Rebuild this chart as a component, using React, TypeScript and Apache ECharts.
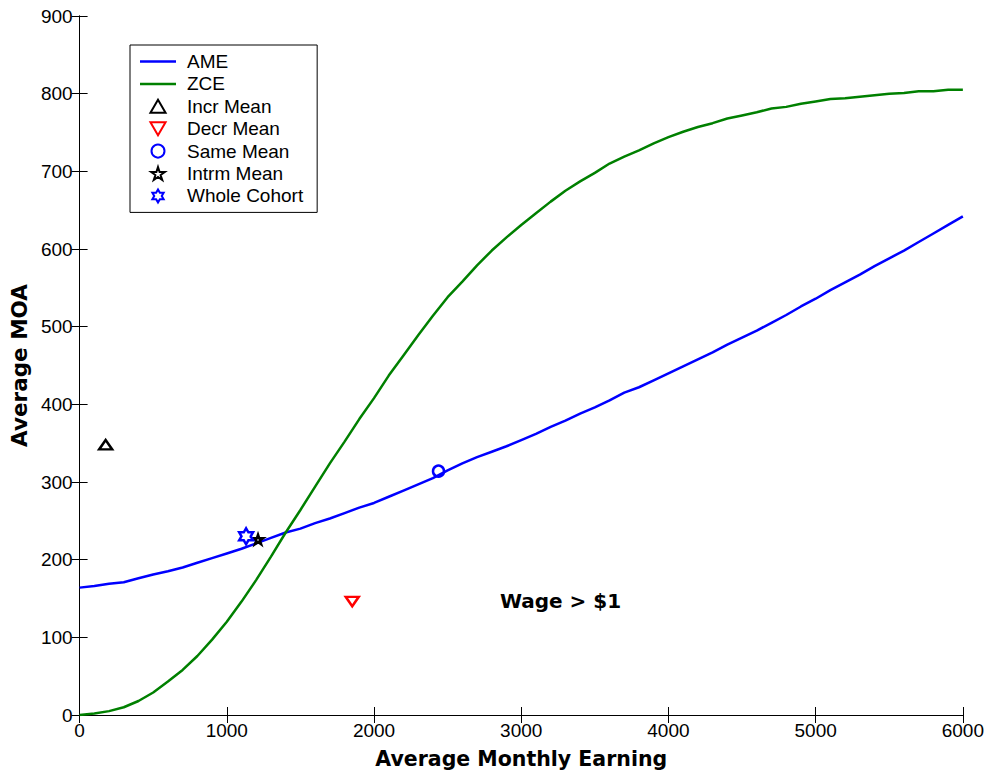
import { useEffect, useRef } from "react";
import * as echarts from "echarts";

// Average Monthly Earning (x) sampled every 100
const earning = [
  0, 100, 200, 300, 400, 500, 600, 700, 800, 900,
  1000, 1100, 1200, 1300, 1400, 1500, 1600, 1700, 1800, 1900,
  2000, 2100, 2200, 2300, 2400, 2500, 2600, 2700, 2800, 2900,
  3000, 3100, 3200, 3300, 3400, 3500, 3600, 3700, 3800, 3900,
  4000, 4100, 4200, 4300, 4400, 4500, 4600, 4700, 4800, 4900,
  5000, 5100, 5200, 5300, 5400, 5500, 5600, 5700, 5800, 5900, 6000,
];

// AME curve (blue)
const ameMOA = [
  164, 166, 169, 171, 176, 181, 185, 190, 196, 202,
  208, 214, 221, 228, 235, 240, 247, 253, 260, 267,
  273, 281, 289, 297, 305, 315, 324, 332, 339, 346,
  354, 362, 371, 379, 388, 396, 405, 415, 422, 431,
  440, 449, 458, 467, 477, 486, 495, 505, 515, 526,
  536, 547, 557, 567, 578, 588, 598, 609, 620, 631, 642,
];

// ZCE curve (green)
const zceMOA = [
  0, 2, 5, 10, 18, 29, 43, 58, 76, 97,
  120, 146, 174, 204, 235, 264, 294, 324, 352, 381,
  408, 437, 463, 489, 514, 538, 558, 579, 598, 615,
  631, 646, 661, 675, 687, 698, 710, 719, 727, 736,
  744, 751, 757, 762, 768, 772, 776, 781, 783, 787,
  790, 793, 794, 796, 798, 800, 801, 803, 803, 805, 805,
];

// Group means [earning, MOA]
const incrMean = [177, 348];
const decrMean = [1852, 146];
const sameMean = [2438, 314];
const intrmMean = [1212, 226];
const wholeCohort = [1131, 230];

// Annotation
const annotationText = "Wage > $1";
const annotationPos = [2855, 147];

const LINE_ICON = "path://M0 0 H36 V2.5 H0 Z";
const TRIANGLE_UP = "path://M50 0 L100 86 L0 86 Z";
const TRIANGLE_DOWN = "path://M0 0 L100 0 L50 86 Z";
const PENTAGRAM =
  "path://M50 0 L61.23 34.55 L97.55 34.55 L68.17 55.9 L79.39 90.45 L50 69.1 L20.61 90.45 L31.83 55.9 L2.45 34.55 L38.77 34.55 Z";
const HEXAGRAM =
  "path://M50 0 L64.43 25 L93.3 25 L78.87 50 L93.3 75 L64.43 75 L50 100 L35.57 75 L6.7 75 L21.13 50 L6.7 25 L35.57 25 Z";

const legendItems = [
  { name: "AME", icon: LINE_ICON },
  { name: "ZCE", icon: LINE_ICON },
  { name: "Incr Mean" },
  { name: "Decr Mean" },
  { name: "Same Mean" },
  { name: "Intrm Mean" },
  { name: "Whole Cohort" },
];

const TICK_FONT = "'Liberation Sans', Arial, Helvetica, sans-serif";
const BOLD_FONT = "'DejaVu Sans', sans-serif";

export default function App() {
  const ref = useRef<HTMLDivElement>(null);

  useEffect(() => {
    document.body.style.margin = "0";
    document.body.style.overflow = "hidden";
    document.documentElement.style.overflow = "hidden";
    const chart = echarts.init(ref.current!, null, { renderer: "svg" });

    const axisCommon = {
      type: "value" as const,
      axisLine: { show: true, lineStyle: { color: "#000", width: 1 } },
      axisTick: { show: true, inside: true, length: 8, lineStyle: { color: "#000", width: 1 } },
      splitLine: { show: false },
    };

    const markerStyle = (color: string) => ({
      color: "transparent",
      borderColor: color,
      borderWidth: 2.5,
      opacity: 1,
    });

    const option = {
      animation: false,
      backgroundColor: "#fff",
      grid: { left: 73, top: 16, right: 23, bottom: 55, containLabel: false },
      xAxis: [
        {
          ...axisCommon,
          position: "bottom",
          min: 0,
          max: 6000,
          interval: 1000,
          axisLabel: {
            color: "#000",
            fontSize: 19,
            fontFamily: TICK_FONT,
            margin: 6,
            formatter: (v: number) => String(v),
          },
          name: "Average Monthly Earning",
          nameLocation: "middle",
          nameGap: 33,
          nameTextStyle: { color: "#000", fontSize: 20.5, fontWeight: "bold", fontFamily: BOLD_FONT },
        },
        {
          ...axisCommon,
          position: "top",
          min: 0,
          max: 6000,
          interval: 1000,
          axisLabel: { show: false },
        },
      ],
      yAxis: [
        {
          ...axisCommon,
          position: "left",
          min: 0,
          max: 900,
          interval: 100,
          axisLabel: {
            color: "#000",
            fontSize: 19,
            fontFamily: TICK_FONT,
            margin: 7,
            formatter: (v: number) => String(v),
          },
          name: "Average MOA",
          nameLocation: "middle",
          nameGap: 42,
          nameTextStyle: { color: "#000", fontSize: 21.5, fontWeight: "bold", fontFamily: BOLD_FONT },
        },
        {
          ...axisCommon,
          position: "right",
          min: 0,
          max: 900,
          interval: 100,
          axisLabel: { show: false },
        },
      ],
      legend: {
        data: legendItems,
        orient: "vertical",
        left: 130,
        top: 45,
        padding: [7, 14, 7, 10],
        itemWidth: 36,
        itemHeight: 13,
        itemGap: 3.4,
        borderColor: "#000",
        borderWidth: 1,
        backgroundColor: "#fff",
        selectedMode: false,
        textStyle: {
          color: "#000",
          fontSize: 19,
          lineHeight: 19,
          fontFamily: TICK_FONT,
          padding: [0, 0, 0, 6],
        },
      },
      series: [
        {
          name: "AME",
          type: "line",
          data: earning.map((x, i) => [x, ameMOA[i]]),
          symbol: "none",
          showSymbol: false,
          lineStyle: { color: "#0000ff", width: 2.5 },
          itemStyle: { color: "#0000ff" },
          z: 2,
        },
        {
          name: "ZCE",
          type: "line",
          data: earning.map((x, i) => [x, zceMOA[i]]),
          symbol: "none",
          showSymbol: false,
          lineStyle: { color: "#008000", width: 2.5 },
          itemStyle: { color: "#008000" },
          z: 2,
        },
        {
          name: "Incr Mean",
          type: "scatter",
          data: [incrMean],
          symbol: TRIANGLE_UP,
          symbolKeepAspect: true,
          symbolSize: [13, 11],
          itemStyle: markerStyle("#000"),
          z: 3,
        },
        {
          name: "Decr Mean",
          type: "scatter",
          data: [decrMean],
          symbol: TRIANGLE_DOWN,
          symbolKeepAspect: true,
          symbolSize: [13, 11],
          itemStyle: markerStyle("#ff0000"),
          z: 3,
        },
        {
          name: "Same Mean",
          type: "scatter",
          data: [sameMean],
          symbol: "circle",
          symbolSize: 11,
          itemStyle: markerStyle("#0000ff"),
          z: 3,
        },
        {
          name: "Intrm Mean",
          type: "scatter",
          data: [intrmMean],
          symbol: PENTAGRAM,
          symbolKeepAspect: true,
          symbolSize: 10,
          itemStyle: markerStyle("#000"),
          z: 3,
        },
        {
          name: "Whole Cohort",
          type: "scatter",
          data: [wholeCohort],
          symbol: HEXAGRAM,
          symbolKeepAspect: true,
          symbolSize: 16,
          itemStyle: markerStyle("#0000ff"),
          z: 3,
        },
        {
          name: "annotation",
          type: "scatter",
          data: [annotationPos],
          symbolSize: 0,
          silent: true,
          itemStyle: { opacity: 1 },
          label: {
            show: true,
            position: "inside",
            align: "left",
            verticalAlign: "middle",
            formatter: annotationText,
            color: "#000",
            fontSize: 20,
            fontWeight: "bold",
            fontFamily: BOLD_FONT,
          },
          z: 3,
        },
      ],
    };

    chart.setOption(option as any);
    return () => chart.dispose();
  }, []);

  return (
    <div
      ref={ref}
      style={{ position: "fixed", left: 0, top: 0, width: 987, height: 774 }}
    />
  );
}
